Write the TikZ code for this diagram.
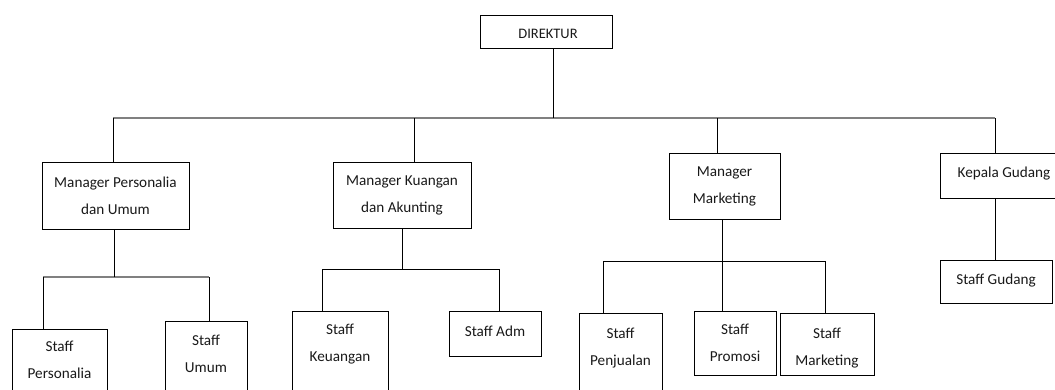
\documentclass[tikz,border=0pt]{standalone}
\usepackage{fontspec}
\setmainfont{Carlito}
\begin{document}
\begin{tikzpicture}[x=1pt,y=-1pt,
  orgbox/.style={draw=black,line width=1pt,anchor=north west,inner sep=0pt},
  lbl/.style={font=\fontsize{15.2}{27}\selectfont,text=black!90,align=center,inner sep=0pt},
  vline/.style={draw=black,line width=1pt},
  bus/.style={draw=black!50,line width=1.6pt}]
\useasboundingbox (0,0) rectangle (1055,389);
% boxes (x1,y1) size
\node[orgbox,minimum width=132pt,minimum height=33pt] (dir) at (480,15) {};
\node[orgbox,minimum width=147pt,minimum height=67pt] (mp) at (42,162) {};
\node[orgbox,minimum width=138pt,minimum height=66pt] (mk) at (333,162) {};
\node[orgbox,minimum width=111pt,minimum height=66pt] (mm) at (669,153) {};
\node[orgbox,minimum width=128pt,minimum height=45pt] (kg) at (940,153) {};
\node[orgbox,minimum width=95pt,minimum height=70pt] (sp) at (12,329) {};
\node[orgbox,minimum width=82pt,minimum height=70pt] (su) at (165,321) {};
\node[orgbox,minimum width=96pt,minimum height=90pt] (skeu) at (292,311) {};
\node[orgbox,minimum width=92pt,minimum height=45pt] (sadm) at (449,311) {};
\node[orgbox,minimum width=83pt,minimum height=90pt] (spen) at (579,313) {};
\node[orgbox,minimum width=82pt,minimum height=64pt] (sprom) at (694,311) {};
\node[orgbox,minimum width=94pt,minimum height=62pt] (smkt) at (780,313) {};
\node[orgbox,minimum width=112pt,minimum height=43pt] (sg) at (940,260) {};
% texts
\node[lbl,font=\fontsize{14.5}{27}\selectfont] (tdir) at (548,34) {DIREKTUR};
\node[lbl] (tmp) at (115.5,196) {Manager Personalia\\dan Umum};
\node[lbl] (tmk) at (402,195) {Manager Kuangan\\dan Akunting};
\node[lbl] (tmm) at (724.5,186) {Manager\\Marketing};
\node[lbl] (tkg) at (1004,174) {Kepala Gudang};
\node[lbl] (tsp) at (59.5,360) {Staff\\Personalia};
\node[lbl] (tsu) at (206,354) {Staff\\Umum};
\node[lbl] (tskeu) at (340,344.5) {Staff\\Keuangan};
\node[lbl] (tsadm) at (495,331) {Staff Adm};
\node[lbl] (tspen) at (620.5,348.5) {Staff\\Penjualan};
\node[lbl] (tsprom) at (735,342.5) {Staff\\Promosi};
\node[lbl] (tsmkt) at (827,348) {Staff\\Marketing};
\node[lbl] (tsg) at (996,281) {Staff Gudang};
% bus coordinates
\coordinate (b0) at (553,118);
\coordinate (b1) at (113,118);
\coordinate (b2) at (414,118);
\coordinate (b3) at (717,118);
\coordinate (b4) at (995,118);
\coordinate (p0) at (114,277);
\coordinate (p1) at (43,277);
\coordinate (p2) at (209,277);
\coordinate (k0) at (402,269);
\coordinate (k1) at (322,269);
\coordinate (k2) at (499,269);
\coordinate (m0) at (722,261);
\coordinate (m1) at (603,261);
\coordinate (m2) at (825,261);
% connectors
\draw[bus] (b1) -- (b4);
\draw[vline] (dir.south -| b0) -- (b0);
\draw[vline] (b1) -- (b1 |- mp.north);
\draw[vline] (b2) -- (b2 |- mk.north);
\draw[vline] (b3) -- (b3 |- mm.north);
\draw[vline] (b4) -- (b4 |- kg.north);
\draw[bus] (p1) -- (p2);
\draw[vline] (p0 |- mp.south) -- (p0);
\draw[vline] (p1) -- (p1 |- sp.north);
\draw[vline] (p2) -- (p2 |- su.north);
\draw[vline] (k1) -- (k2);
\draw[vline] (k0 |- mk.south) -- (k0);
\draw[vline] (k1) -- (k1 |- skeu.north);
\draw[vline] (k2) -- (k2 |- sadm.north);
\draw[vline] (m1) -- (m2);
\draw[vline] (m0 |- mm.south) -- (m0);
\draw[vline] (m1) -- (m1 |- spen.north);
\draw[vline] (m0) -- (m0 |- sprom.north);
\draw[vline] (m2) -- (m2 |- smkt.north);
\draw[vline] (b4 |- kg.south) -- (b4 |- sg.north);
\end{tikzpicture}
\end{document}
